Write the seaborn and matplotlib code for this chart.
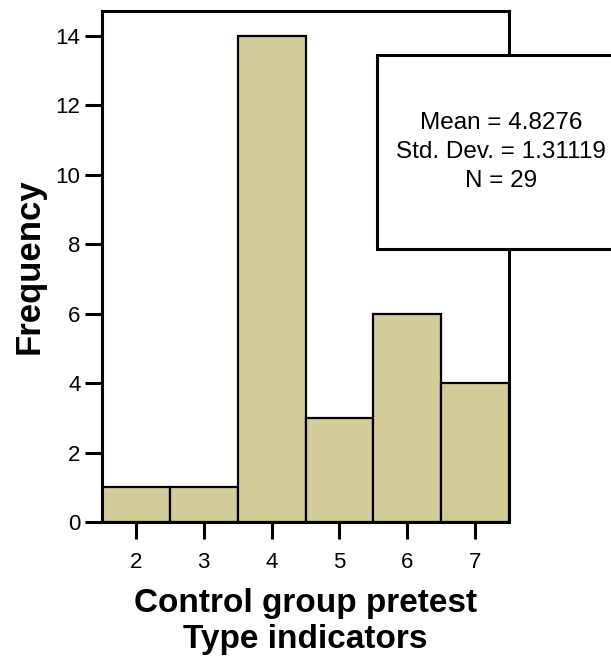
import numpy as np
import pandas as pd
import matplotlib
matplotlib.use("Agg")
import matplotlib.pyplot as plt
from matplotlib.patches import Rectangle
import seaborn as sns

# Type indicator scores and how many control-group students got each
scores = [2, 3, 4, 5, 6, 7]
counts = [1, 1, 14, 3, 6, 4]
y_ticks = [0, 2, 4, 6, 8, 10, 12, 14]

x_title = "Control group pretest\nType indicators"
y_title = "Frequency"

bar_color = "#d3ce99"

sns.set_style("white")
plt.rcParams["font.family"] = ["Liberation Sans", "DejaVu Sans"]
plt.rcParams.update({
    "text.color": "black",
    "axes.labelcolor": "black",
    "xtick.color": "black",
    "ytick.color": "black",
    "axes.edgecolor": "black",
})

df = pd.DataFrame({"score": scores, "count": counts})

# summary statistics from the frequency table
values = np.repeat(scores, counts)
n = len(values)
mean = values.mean()
sd = values.std(ddof=1)

fig = plt.figure(figsize=(6.11, 6.65), dpi=100)
ax = fig.add_axes([102 / 611, 1 - 522 / 665, (509 - 102) / 611, (522 - 11) / 665])

sns.histplot(data=df, x="score", weights="count", discrete=True, ax=ax,
             color=bar_color, alpha=1, edgecolor="black", linewidth=1.6)

ax.set_xlim(1.5, 7.5)
ax.set_ylim(0, 14.72)
ax.set_xticks(scores)
ax.set_yticks(y_ticks)

for s in ax.spines.values():
    s.set_linewidth(2.2)
    s.set_color("black")

ax.tick_params(axis="both", direction="out", length=12.5, width=2.2,
               color="black", labelsize=16, labelcolor="black",
               bottom=True, left=True)
ax.tick_params(axis="x", pad=9)
ax.tick_params(axis="y", pad=3)

ax.set_xlabel(x_title, fontsize=24, fontweight="bold", labelpad=11,
              linespacing=1.2)
ax.set_ylabel(y_title, fontsize=25, fontweight="bold", labelpad=7)

# statistics box, partly running off the right edge
box_l, box_r, box_t, box_b = 377, 625, 55, 249
fig.patches.append(Rectangle((box_l / 611, 1 - box_b / 665),
                             (box_r - box_l) / 611, (box_b - box_t) / 665,
                             transform=fig.transFigure, facecolor="white",
                             edgecolor="black", linewidth=2.2, zorder=5,
                             clip_on=False))
fig.text(501 / 611, 1 - 152 / 665,
         f"Mean = {mean:.4f}\nStd. Dev. = {sd:.5f}\nN = {n}",
         ha="center", va="center", fontsize=17.5, linespacing=1.4,
         zorder=6)

fig.savefig("out.png", dpi=100)
